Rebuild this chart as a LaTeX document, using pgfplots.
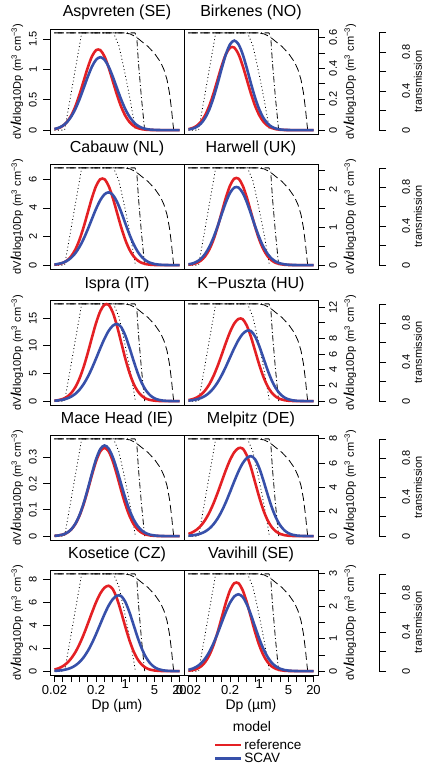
\documentclass[border=0pt]{standalone}
\usepackage{fontspec}
\setmainfont{Liberation Sans}
\usepackage{pgfplots}
\usepackage{pgfplotstable}
\pgfplotsset{compat=1.18}
\definecolor{cred}{RGB}{228,32,36}
\definecolor{cblue}{RGB}{55,80,170}
\newcommand\fs[1]{\fontsize{#1}{#1}\selectfont}

\pgfplotstableread{
Dp AR AB BR BB
0.02 0.0148 0.0181 0.0060 0.0042
0.0251 0.0334 0.0377 0.0136 0.0098
0.0316 0.0697 0.0726 0.0283 0.0213
0.0398 0.1339 0.1308 0.0544 0.0426
0.0501 0.2371 0.2200 0.0963 0.0785
0.0631 0.3869 0.3450 0.1571 0.1335
0.0794 0.5820 0.5050 0.2363 0.2090
0.1 0.8066 0.6896 0.3275 0.3019
0.1259 1.0305 0.8788 0.4184 0.4017
0.1585 1.2134 1.0448 0.4926 0.4926
0.1995 1.3164 1.1592 0.5345 0.5568
0.2512 1.3164 1.2000 0.5345 0.5800
0.3162 1.2134 1.1592 0.4926 0.5568
0.3981 1.0305 1.0448 0.4184 0.4926
0.5012 0.8066 0.8788 0.3275 0.4017
0.631 0.5820 0.6896 0.2363 0.3019
0.7943 0.3869 0.5050 0.1571 0.2090
1 0.2371 0.3450 0.0963 0.1335
1.259 0.1339 0.2200 0.0544 0.0785
1.585 0.0697 0.1308 0.0283 0.0426
1.995 0.0334 0.0726 0.0136 0.0213
2.512 0.0148 0.0377 0.0060 0.0098
3.162 0.0060 0.0181 0.0024 0.0042
3.981 0.0023 0.0082 0.0009 0.0016
5.012 0.0008 0.0035 0.0003 0.0006
6.31 0 0.0013 0 0.0002
7.943 0 0.0005 0 0
10 0 0 0 0
12.59 0 0 0 0
15.85 0 0 0 0
20 0 0 0 0
}\tA

\pgfplotstableread{
Dp CR CB HR HB
0.02 0.0275 0.0423 0.0104 0.0212
0.0251 0.0674 0.0860 0.0255 0.0453
0.0316 0.1524 0.1649 0.0577 0.0904
0.0398 0.3181 0.2988 0.1205 0.1687
0.0501 0.6112 0.5126 0.2316 0.2938
0.0631 1.0823 0.8297 0.4101 0.4769
0.0794 1.7658 1.2694 0.6691 0.7229
0.1 2.6562 1.8344 1.0065 1.0218
0.1259 3.6815 2.5058 1.3950 1.3479
0.1585 4.7030 3.2342 1.7820 1.6591
0.1995 5.5377 3.9437 2.0983 1.9055
0.2512 6.0081 4.5444 2.2765 2.0423
0.3162 6.0081 4.9480 2.2765 2.0423
0.3981 5.5377 5.0900 2.0983 1.9055
0.5012 4.7030 4.9169 1.7820 1.6591
0.631 3.6815 4.4319 1.3950 1.3479
0.7943 2.6562 3.7274 1.0065 1.0218
1 1.7658 2.9252 0.6691 0.7229
1.259 1.0823 2.1419 0.4101 0.4769
1.585 0.6112 1.4634 0.2316 0.2938
1.995 0.3181 0.9330 0.1205 0.1687
2.512 0.1524 0.5548 0.0577 0.0904
3.162 0.0674 0.3079 0.0255 0.0453
3.981 0.0275 0.1598 0.0104 0.0212
5.012 0.0103 0.0769 0.0039 0.0093
6.31 0.0036 0.0346 0.0014 0.0037
7.943 0 0.0148 0 0.0014
10 0 0.0056 0 0
12.59 0 0.0020 0 0
15.85 0 0.0005 0 0
20 0 0 0 0
}\tB

\pgfplotstableread{
Dp IR IB KR KB
0.02 0.0787 0.0686 0.1257 0.0628
0.0251 0.1813 0.1362 0.2492 0.1219
0.0316 0.3872 0.2570 0.4636 0.2248
0.0398 0.7726 0.4652 0.8173 0.3964
0.0501 1.4414 0.8005 1.3622 0.6673
0.0631 2.5098 1.3146 2.1437 1.0701
0.0794 4.0744 2.0606 3.1881 1.6380
0.1 6.1758 3.0790 4.4806 2.3902
0.1259 8.7296 4.3894 5.9484 3.3276
0.1585 11.5157 5.9666 7.4628 4.4184
0.1995 14.1750 7.7394 8.8451 5.5959
0.2512 16.2800 9.5722 9.9074 6.7608
0.3162 17.4486 11.2933 10.4850 7.7902
0.3981 17.4205 12.7099 10.4523 8.5622
0.5012 16.0565 13.6431 9.6339 8.9767
0.631 13.6365 13.9700 8.1819 8.9379
0.7943 10.6744 13.4112 6.4046 8.2381
1 7.7018 11.8647 4.6211 6.9964
1.259 5.1198 9.6756 3.0719 5.4767
1.585 3.1381 7.2714 1.8828 3.9515
1.995 1.7723 5.0348 1.0634 2.6268
2.512 0.9222 3.2145 0.5533 1.6100
3.162 0.4418 1.8901 0.2651 0.9093
3.981 0.1954 1.0254 0.1172 0.4732
5.012 0.0797 0.5127 0.0478 0.2267
6.31 0.0299 0.2361 0.0180 0.1002
7.943 0.0106 0.1000 0.0063 0.0409
10 0 0.0391 0 0.0154
12.59 0 0.0141 0 0.0054
15.85 0 0.0047 0 0
20 0 0 0 0
}\tC

\pgfplotstableread{
Dp MR MB ER EB
0.02 0.0009 0.0010 0.1813 0.0323
0.0251 0.0024 0.0025 0.3196 0.0642
0.0316 0.0057 0.0058 0.5380 0.1211
0.0398 0.0123 0.0127 0.8627 0.2191
0.0501 0.0247 0.0253 1.3206 0.3770
0.0631 0.0455 0.0467 1.9270 0.6192
0.0794 0.0773 0.0794 2.6827 0.9706
0.1 0.1211 0.1243 3.5621 1.4502
0.1259 0.1749 0.1796 4.5114 2.0674
0.1585 0.2327 0.2389 5.4505 2.8103
0.1995 0.2854 0.2930 6.2805 3.6453
0.2512 0.3226 0.3312 6.9029 4.5086
0.3162 0.3360 0.3450 7.2370 5.3193
0.3981 0.3226 0.3333 7.2057 5.9865
0.5012 0.2854 0.3004 6.6415 6.4260
0.631 0.2327 0.2526 5.6405 6.5800
0.7943 0.1749 0.1983 4.4153 6.3168
1 0.1211 0.1452 3.1857 5.5884
1.259 0.0773 0.0992 2.1178 4.5573
1.585 0.0455 0.0632 1.2980 3.4249
1.995 0.0247 0.0376 0.7331 2.3714
2.512 0.0123 0.0209 0.3815 1.5141
3.162 0.0057 0.0108 0.1827 0.8903
3.981 0.0024 0.0052 0.0808 0.4830
5.012 0.0009 0.0024 0.0330 0.2415
6.31 0.0003 0.0010 0.0124 0.1112
7.943 0 0.0004 0.0044 0.0471
10 0 0 0 0.0184
12.59 0 0 0 0.0066
15.85 0 0 0 0.0022
20 0 0 0 0
}\tD

\pgfplotstableread{
Dp OR OB VR VB
0.02 0.1363 0.0225 0.0124 0.0401
0.0251 0.2468 0.0459 0.0304 0.0768
0.0316 0.4246 0.0890 0.0688 0.1391
0.0398 0.6973 0.1641 0.1436 0.2387
0.0501 1.0930 0.2893 0.2759 0.3863
0.0631 1.6332 0.4870 0.4885 0.5911
0.0794 2.3282 0.7809 0.7971 0.8541
0.1 3.1648 1.1954 1.1990 1.1668
0.1259 4.1051 1.7444 1.6618 1.5059
0.1585 5.0773 2.4284 2.1230 1.8363
0.1995 5.9902 3.2245 2.4997 2.1159
0.2512 6.7416 4.0838 2.7121 2.3039
0.3162 7.2366 4.9339 2.7121 2.3700
0.3981 7.4100 5.6852 2.4997 2.2894
0.5012 7.1136 6.2486 2.1230 2.0636
0.631 6.2933 6.5511 1.6618 1.7356
0.7943 5.1322 6.5228 1.1990 1.3620
1 3.8569 6.0121 0.7971 0.9973
1.259 2.6706 5.1059 0.4885 0.6814
1.585 1.7050 3.9968 0.2759 0.4344
1.995 1.0026 2.8838 0.1436 0.2583
2.512 0.5439 1.9170 0.0688 0.1434
3.162 0.2719 1.1750 0.0304 0.0744
3.981 0.1252 0.6636 0.0123 0.0358
5.012 0.0531 0.3453 0.0047 0.0162
6.31 0.0207 0.1654 0.0016 0.0068
7.943 0.0075 0.0731 0 0.0027
10 0.0025 0.0299 0 0.0010
12.59 0 0.0112 0 0
15.85 0 0.0040 0 0
20 0 0 0 0
}\tE

\newcommand\transplots{%
\addplot[black, line width=0.8pt, dash pattern=on 0.9pt off 2.6pt] coordinates {(0.02,0) (0.035,0) (0.09,1) (0.52,1) (0.7,0.87) (0.9,0.66) (1.1,0.48) (1.31,0.31) (1.5,0.17) (1.72,0.02) (1.76,0)};
\addplot[black, line width=0.8pt, dash pattern=on 0.9pt off 2.6pt on 6pt off 2.6pt] coordinates {(0.02,1) (1.7,1) (1.88,0.96) (2.07,0.69) (2.43,0.34) (2.88,0.02) (2.92,0)};
\addplot[black, line width=0.8pt, dash pattern=on 8pt off 4pt] coordinates {(0.02,1) (0.9,1) (1.3,0.99) (1.8,0.96) (2.5,0.91) (3.5,0.86) (5,0.79) (7,0.70) (8.5,0.62) (10,0.52) (11.5,0.38) (12.8,0.22) (13.8,0.08) (14.5,0)};
}

\pgfplotsset{
  mybase/.style={scale only axis, width=134pt, height=105pt, xmin=0.0156, xmax=25.6,
    xtick=\empty, axis line style={line width=0.8pt}, every tick/.style={black, line width=0.8pt},
    tick align=outside, major tick length=7pt,
    title style={font=\fs{16}, at={(0.5,1)}, anchor=base, yshift=6pt},
    ylabel style={font=\fs{11}},
    ylabel={dV{\fs{14}\textbf{/}}dlog10Dp (m\textsuperscript{3} cm\textsuperscript{−3})}},
  mylp/.style={mybase, ytick pos=left,
    yticklabel style={font=\fs{11}, xshift=-6pt, rotate=90, anchor=south, inner sep=0pt},
    ylabel style={at={(axis description cs:-0.246,0.5)}, anchor=center}},
  myrp/.style={mybase, ytick pos=right, yticklabel pos=right,
    yticklabel style={font=\fs{11}, xshift=4pt, rotate=90, anchor=north, inner sep=0pt},
    ylabel style={at={(axis description cs:1.239,0.5)}, anchor=center}},
  mytrans/.style={scale only axis, width=134pt, height=105pt, xmin=0.0156, xmax=25.6,
    ymin=-0.04, ymax=1.04, hide axis},
  mytside/.style={scale only axis, width=10pt, height=97.2pt, xmin=0, xmax=1, ymin=0, ymax=1,
    hide x axis, axis y line*=right, axis line style={line width=0.8pt},
    every tick/.style={black, line width=0.8pt}, tick align=outside, major tick length=7pt,
    ytick={0,0.2,0.4,0.6,0.8,1}, yticklabels={0,,0.4,,0.8,},
    yticklabel style={font=\fs{11}, xshift=16pt, rotate=90, anchor=north, inner sep=0pt},
    ylabel={transmission}, ylabel style={font=\fs{11}, at={(axis description cs:4.9,0.5)}, anchor=center}},
  myxax/.style={scale only axis, width=125pt, height=10pt, xmin=0.02, xmax=20, ymin=0, ymax=1,
    hide y axis, axis x line*=bottom, axis line style={line width=0.8pt},
    every tick/.style={black, line width=0.8pt}, tick align=outside, major tick length=6pt,
    xtick={0.02,0.0317,0.0502,0.0796,0.1262,0.2,0.317,0.502,0.796,1.262,2,3.17,5.02,7.96,12.62,20},
    xticklabels={0.02,,,,,0.2,,,,,,,5,,,20},
    extra x ticks={1}, extra x tick labels={1}, extra x tick style={major tick length=0pt},
    xticklabel style={font=\fs{13}},
    xlabel={Dp (µm)}, xlabel style={font=\fs{14}, at={(axis description cs:0.5,0)}, anchor=center, yshift=-30pt}},
  myred/.style={cred, line width=2.6pt, smooth},
  myblue/.style={cblue, line width=2.6pt, smooth},
}

\begin{document}
\begin{tikzpicture}
\useasboundingbox (0,0) rectangle (423pt,-768pt);

% ---------- Row 1 ----------
\begin{semilogxaxis}[mytrans, at={(50pt,-29pt)}, anchor=north west]\transplots\end{semilogxaxis}
\begin{semilogxaxis}[mylp, at={(50pt,-29pt)}, anchor=north west, ymin=-0.064, ymax=1.664,
  ytick={0,0.5,1,1.5}, yticklabels={0,0.5,1,1.5}, title={Aspvreten (SE)}]
\addplot[myred] table[x=Dp,y=AR]{\tA};
\addplot[myblue] table[x=Dp,y=AB]{\tA};
\end{semilogxaxis}
\begin{semilogxaxis}[mytrans, at={(184pt,-29pt)}, anchor=north west]\transplots\end{semilogxaxis}
\begin{semilogxaxis}[myrp, at={(184pt,-29pt)}, anchor=north west, ymin=-0.0252, ymax=0.6552,
  ytick={0,0.1,0.2,0.3,0.4,0.5,0.6}, yticklabels={0,,0.2,,0.4,,0.6}, title={Birkenes (NO)}]
\addplot[myred] table[x=Dp,y=BR]{\tA};
\addplot[myblue] table[x=Dp,y=BB]{\tA};
\end{semilogxaxis}
\begin{axis}[mytside, at={(379pt,-32.9pt)}, anchor=north east]\end{axis}

% ---------- Row 2 ----------
\begin{semilogxaxis}[mytrans, at={(50pt,-164pt)}, anchor=north west]\transplots\end{semilogxaxis}
\begin{semilogxaxis}[mylp, at={(50pt,-164pt)}, anchor=north west, ymin=-0.272, ymax=7.072,
  ytick={0,2,4,6}, yticklabels={0,2,4,6}, title={Cabauw (NL)}]
\addplot[myred] table[x=Dp,y=CR]{\tB};
\addplot[myblue] table[x=Dp,y=CB]{\tB};
\end{semilogxaxis}
\begin{semilogxaxis}[mytrans, at={(184pt,-164pt)}, anchor=north west]\transplots\end{semilogxaxis}
\begin{semilogxaxis}[myrp, at={(184pt,-164pt)}, anchor=north west, ymin=-0.1024, ymax=2.6624,
  ytick={0,0.5,1,1.5,2,2.5}, yticklabels={0,,1,,2,}, title={Harwell (UK)}]
\addplot[myred] table[x=Dp,y=HR]{\tB};
\addplot[myblue] table[x=Dp,y=HB]{\tB};
\end{semilogxaxis}
\begin{axis}[mytside, at={(379pt,-167.9pt)}, anchor=north east]\end{axis}

% ---------- Row 3 ----------
\begin{semilogxaxis}[mytrans, at={(50pt,-300pt)}, anchor=north west]\transplots\end{semilogxaxis}
\begin{semilogxaxis}[mylp, at={(50pt,-300pt)}, anchor=north west, ymin=-0.704, ymax=18.304,
  ytick={0,5,10,15}, yticklabels={0,5,10,15}, title={Ispra (IT)}]
\addplot[myred] table[x=Dp,y=IR]{\tC};
\addplot[myblue] table[x=Dp,y=IB]{\tC};
\end{semilogxaxis}
\begin{semilogxaxis}[mytrans, at={(184pt,-300pt)}, anchor=north west]\transplots\end{semilogxaxis}
\begin{semilogxaxis}[myrp, at={(184pt,-300pt)}, anchor=north west, ymin=-0.496, ymax=12.896,
  ytick={0,2,4,6,8,10,12}, yticklabels={0,2,4,6,8,,12}, title={K−Puszta (HU)}]
\addplot[myred] table[x=Dp,y=KR]{\tC};
\addplot[myblue] table[x=Dp,y=KB]{\tC};
\end{semilogxaxis}
\begin{axis}[mytside, at={(379pt,-303.9pt)}, anchor=north east]\end{axis}

% ---------- Row 4 ----------
\begin{semilogxaxis}[mytrans, at={(50pt,-435pt)}, anchor=north west]\transplots\end{semilogxaxis}
\begin{semilogxaxis}[mylp, at={(50pt,-435pt)}, anchor=north west, ymin=-0.0148, ymax=0.3848,
  ytick={0,0.1,0.2,0.3}, yticklabels={0,0.1,0.2,0.3}, title={Mace Head (IE)}]
\addplot[myred] table[x=Dp,y=MR]{\tD};
\addplot[myblue] table[x=Dp,y=MB]{\tD};
\end{semilogxaxis}
\begin{semilogxaxis}[mytrans, at={(184pt,-435pt)}, anchor=north west]\transplots\end{semilogxaxis}
\begin{semilogxaxis}[myrp, at={(184pt,-435pt)}, anchor=north west, ymin=-0.32, ymax=8.32,
  ytick={0,2,4,6,8}, yticklabels={0,2,4,6,8}, title={Melpitz (DE)}]
\addplot[myred] table[x=Dp,y=ER]{\tD};
\addplot[myblue] table[x=Dp,y=EB]{\tD};
\end{semilogxaxis}
\begin{axis}[mytside, at={(379pt,-438.9pt)}, anchor=north east]\end{axis}

% ---------- Row 5 ----------
\begin{semilogxaxis}[mytrans, at={(50pt,-570pt)}, anchor=north west]\transplots\end{semilogxaxis}
\begin{semilogxaxis}[mylp, at={(50pt,-570pt)}, anchor=north west, ymin=-0.3376, ymax=8.7776,
  ytick={0,2,4,6,8}, yticklabels={0,2,4,6,8}, title={Kosetice (CZ)}]
\addplot[myred] table[x=Dp,y=OR]{\tE};
\addplot[myblue] table[x=Dp,y=OB]{\tE};
\end{semilogxaxis}
\begin{semilogxaxis}[mytrans, at={(184pt,-570pt)}, anchor=north west]\transplots\end{semilogxaxis}
\begin{semilogxaxis}[myrp, at={(184pt,-570pt)}, anchor=north west, ymin=-0.12, ymax=3.12,
  ytick={0,0.5,1,1.5,2,2.5,3}, yticklabels={0,,1,,2,,3}, title={Vavihill (SE)},
  legend entries={reference,SCAV},
  legend style={at={(axis description cs:0.224,-0.605)}, anchor=north west, draw=none, fill=none,
    font=\fs{13.5}, inner sep=0pt, row sep=1.5pt, cells={anchor=west},
    nodes={inner sep=0.5pt},
    /tikz/every odd column/.append style={column sep=1.5pt}},
  legend image code/.code={\draw[#1, line width=2.2pt] (0pt,0pt) -- (26pt,0pt);}]
\addplot[myred] table[x=Dp,y=VR]{\tE};
\addplot[myblue] table[x=Dp,y=VB]{\tE};
\end{semilogxaxis}
\begin{axis}[mytside, at={(379pt,-573.9pt)}, anchor=north east]\end{axis}

% bottom x axes
\begin{semilogxaxis}[myxax, at={(54.5pt,-676pt)}, anchor=south west]\end{semilogxaxis}
\begin{semilogxaxis}[myxax, at={(188.5pt,-676pt)}, anchor=south west]\end{semilogxaxis}

\node[font=\fs{14}] at (252pt,-726pt) {model};
\end{tikzpicture}
\end{document}
